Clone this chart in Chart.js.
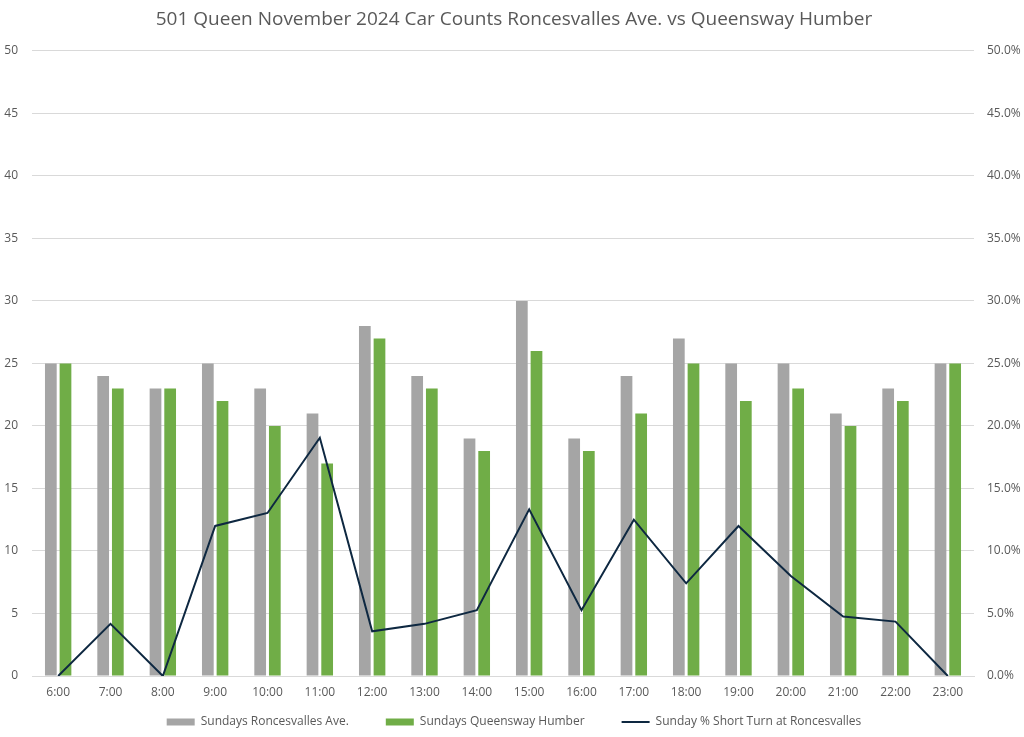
<!DOCTYPE html>
<html><head><meta charset="utf-8">
<script src="https://cdn.jsdelivr.net/npm/chart.js@4/dist/chart.umd.min.js"></script>
<style>html,body{margin:0;padding:0;background:#fff}#wrap{width:1024px;height:737px}</style>
</head><body><div id="wrap"><canvas id="c" width="1024" height="737"></canvas></div>
<script>
const categories = ["6:00","7:00","8:00","9:00","10:00","11:00","12:00","13:00","14:00","15:00","16:00","17:00","18:00","19:00","20:00","21:00","22:00","23:00"];
const roncesvalles = [25,24,23,25,23,21,28,24,19,30,19,24,27,25,25,21,23,25];
const queensway = [25,23,23,22,20,17,27,23,18,26,18,21,25,22,23,20,22,25];
const shortTurnPct = [0,4.17,0,12,13.04,19.05,3.57,4.17,5.26,13.33,5.26,12.5,7.41,12,8,4.76,4.35,0];
const FONT = "'Open Sans', Lato, sans-serif";
const TXT = '#595959';
const legendShift = {
  id:'legendShift',
  afterLayout(chart){
    const lg = chart.legend; if(!lg) return;
    lg.top = 679; lg.bottom = chart.height; lg.height = lg.bottom - lg.top;
  }
};
new Chart(document.getElementById('c'), {
  data: {
    labels: categories,
    datasets: [
      {type:'line', label:'Sunday % Short Turn at Roncesvalles', data: shortTurnPct, yAxisID:'y2',
       borderColor:'#0E2841', backgroundColor:'#0E2841', borderWidth:2, pointRadius:0, tension:0, order:0, pointStyle:'line'},
      {type:'bar', label:'Sundays Roncesvalles Ave.', data: roncesvalles, yAxisID:'y',
       backgroundColor:'#A5A5A5', categoryPercentage:0.56, barPercentage:0.8, order:1, pointStyle:'rect'},
      {type:'bar', label:'Sundays Queensway Humber', data: queensway, yAxisID:'y',
       backgroundColor:'#70AD47', categoryPercentage:0.56, barPercentage:0.8, order:2, pointStyle:'rect'}
    ]
  },
  options: {
    responsive:false, animation:false,
    layout:{padding:{left:4,right:0,top:0,bottom:0}},
    plugins:{
      title:{display:true, text:'501 Queen November 2024 Car Counts Roncesvalles Ave. vs Queensway Humber',
        color:TXT, font:{family:FONT, size:19, weight:'normal'}, padding:{top:8,bottom:20}},
      legend:{position:'bottom', maxHeight:31,
        labels:{color:TXT, font:{family:FONT,size:12}, usePointStyle:true, pointStyleWidth:28, boxHeight:7, padding:37,
        sort:(a,b)=>[1,2,0].indexOf(a.datasetIndex)-[1,2,0].indexOf(b.datasetIndex)}},
      tooltip:{enabled:false}
    },
    scales:{
      x:{grid:{display:false, drawTicks:false}, border:{color:'#D9D9D9'}, ticks:{color:TXT, font:{family:FONT,size:12}, padding:9},
         afterFit(s){ s.height = 30; }},
      y:{position:'left', min:0, max:50, ticks:{stepSize:5, color:TXT, font:{family:FONT,size:12}, padding:14},
         grid:{color:'#D9D9D9', drawTicks:false}, border:{display:false},
         afterFit(s){ s.width = 28; }},
      y2:{position:'right', min:0, max:50, ticks:{stepSize:5, color:TXT, font:{family:FONT,size:12}, padding:13,
         callback:v=>v.toFixed(1)+'%'}, grid:{display:false, drawTicks:false}, border:{display:false},
         afterFit(s){ s.width = 50; }}
    }
  },
  plugins:[legendShift]
});
</script></body></html>
